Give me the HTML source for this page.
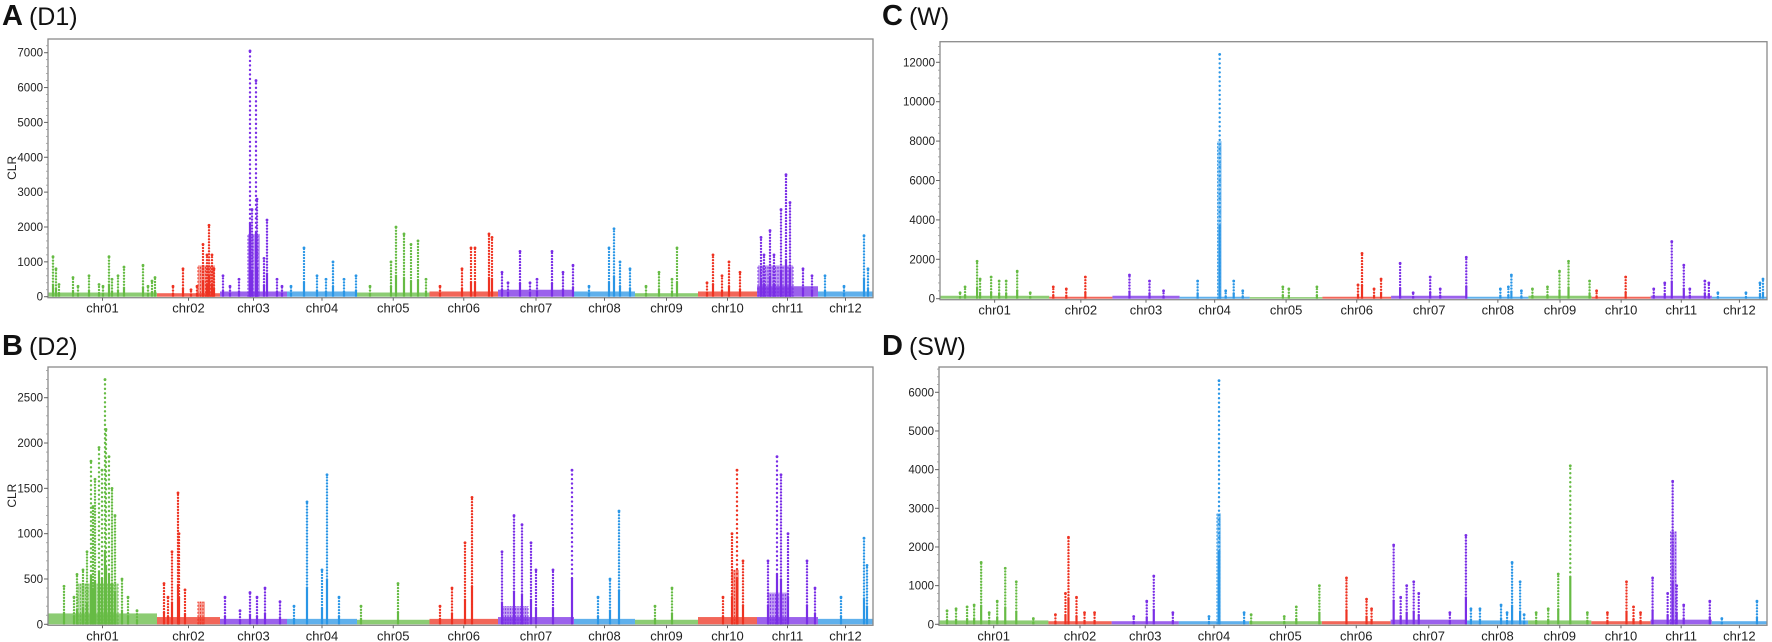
<!DOCTYPE html>
<html><head><meta charset="utf-8"><style>
body{margin:0;background:#fff;}
svg{display:block;font-family:"Liberation Sans",Arial,sans-serif;}
</style></head><body>
<svg id="chart" width="1772" height="642" viewBox="0 0 1772 642" xmlns="http://www.w3.org/2000/svg"></svg>
<script>
const chromosomes = ["chr01","chr02","chr03","chr04","chr05","chr06","chr07","chr08","chr09","chr10","chr11","chr12"];
const chromLengths = [109,63,67,70,72.5,68.5,76,61,63,59,61,55];
const chromColors = ["#66bb44","#ee3322","#7a2ee6","#2a96e6"];

const ticksA = [0,1000,2000,3000,4000,5000,6000,7000];
const ticksB = [0,500,1000,1500,2000,2500];
const ticksC = [0,2000,4000,6000,8000,10000,12000];
const ticksD = [0,1000,2000,3000,4000,5000,6000];

const backgroundA = [120,100,150,150,120,150,200,150,100,150,300,150];
const backgroundB = [120,80,60,60,50,60,80,60,50,80,80,60];
const backgroundC = [150,100,150,100,80,100,150,100,150,100,150,100];
const backgroundD = [100,80,80,80,80,80,120,100,100,80,120,80];

const peaksA = [[5,1150],[8,800],[11,350],[25,550],[30,300],[41,600],[51,350],[55,300],[61,1150],[64,500],[70,600],[76,850],[95,900],[100,300],[104,450],[107,550],
[125,300],[135,800],[143,200],[149,300],[155,1500],[159,1200],[161,2050],[164,1200],[166,800],
[175,600],[182,300],[191,500],[202,7050],[204,2500],[208,6200],[209,2800],[216,1100],[219,2200],[229,500],[234,300],
[243,300],[256,1400],[269,600],[278,500],[285,1000],[296,500],[308,600],
[322,300],[343,1000],[348,2000],[356,1800],[363,1500],[370,1600],[378,500],
[392,300],[414,800],[423,1400],[427,1400],[441,1800],[444,1700],
[454,700],[460,400],[472,1300],[482,400],[489,500],[504,1300],[515,700],[525,900],
[541,300],[561,1400],[566,1950],[572,1000],[582,800],
[598,300],[611,700],[624,500],[629,1400],
[659,400],[665,1200],[674,600],[681,1000],[692,700],
[713,1700],[716,1200],[722,1900],[726,1200],[733,2500],[738,3500],[742,2700],[755,800],[764,600],
[777,600],[796,300],[816,1750],[820,800]];
const denseA = [[200,212,1800],[710,745,900],[150,167,900]];

const peaksB = [[16,420],[26,300],[29,550],[35,600],[39,800],[43,1800],[45,1300],[47,1600],[51,1950],[54,1700],[57,2700],[58,2150],[61,1850],[64,1500],[67,1200],[74,500],[80,300],[89,150],
[116,450],[120,300],[124,800],[130,1450],[131,1000],[137,380],
[177,300],[192,150],[202,350],[209,300],[217,400],[232,250],
[246,200],[259,1350],[274,600],[279,1650],[291,300],
[313,200],[350,450],
[392,200],[404,400],[417,900],[424,1400],
[454,800],[466,1200],[474,1100],[483,900],[488,600],[505,600],[524,1700],
[550,300],[562,500],[571,1250],
[607,200],[624,400],
[675,300],[684,1000],[689,1700],[695,700],
[720,700],[729,1850],[733,1650],[740,1000],[759,700],[767,400],
[793,300],[816,950],[819,650]];
const denseB = [[30,70,450],[150,157,250],[684,691,600],[720,740,350],[455,480,200]];

const peaksC = [[20,300],[25,600],[37,1900],[40,1000],[51,1100],[59,900],[66,900],[77,1400],[90,300],
[113,600],[126,500],[145,1100],
[189,1200],[209,900],[223,400],
[257,900],[279,12400],[285,400],[293,900],[302,400],
[342,600],[348,500],[376,600],
[417,700],[421,2300],[433,500],[440,1000],
[459,1800],[472,300],[489,1100],[499,500],[525,2100],
[559,500],[567,600],[570,1200],[580,400],
[591,500],[606,600],[618,1400],[627,1900],[648,900],
[655,400],[684,1100],
[712,500],[723,800],[730,2900],[742,1700],[748,500],[763,900],[767,800],
[776,300],[804,300],[818,800],[821,1000]];
const denseC = [[277,281,8000]];

const peaksD = [[8,350],[17,400],[28,450],[35,500],[42,1600],[50,300],[58,600],[66,1450],[77,1100],[94,150],
[116,250],[126,800],[129,2250],[137,700],[145,300],[155,300],
[194,200],[207,600],[214,1250],[233,300],
[269,200],[279,6300],[304,300],[311,250],
[344,200],[356,450],[379,1000],
[406,1200],[426,650],[431,400],
[453,2050],[460,700],[466,1000],[473,1100],[478,800],[509,300],[525,2300],[530,400],
[539,400],[560,500],[566,300],[571,1600],[579,1100],[583,250],
[595,300],[607,400],[617,1300],[629,4100],[646,300],
[666,300],[685,1100],[692,450],[699,300],
[711,1200],[726,800],[731,3700],[735,1000],[742,500],[768,600],
[780,150],[815,600]];
const denseD = [[277,281,2870],[729,735,2400]];

const NS="http://www.w3.org/2000/svg";
const svg=document.getElementById('chart');
function mk(tag,attrs,parent){const e=document.createElementNS(NS,tag);for(const k in attrs)e.setAttribute(k,attrs[k]);(parent||svg).appendChild(e);return e;}

const panels=[
 {id:'a',letter:'A',tag:'(D1)',tx:2,ty:25,left:48,right:873,top:39,zeroY:296.7,refV:7000,refY:52.7,ticks:ticksA,bg:backgroundA,peaks:peaksA,dense:denseA,ylabel:true},
 {id:'b',letter:'B',tag:'(D2)',tx:2,ty:355,left:48,right:873,top:367,zeroY:624.3,refV:2500,refY:397.7,ticks:ticksB,bg:backgroundB,peaks:peaksB,dense:denseB,ylabel:true},
 {id:'c',letter:'C',tag:'(W)',tx:882,ty:25,left:940,right:1767,top:41.7,zeroY:298.7,refV:12000,refY:62.3,ticks:ticksC,bg:backgroundC,peaks:peaksC,dense:denseC,ylabel:false},
 {id:'d',letter:'D',tag:'(SW)',tx:882,ty:355,left:939,right:1767,top:367,zeroY:624.3,refV:6000,refY:392.3,ticks:ticksD,bg:backgroundD,peaks:peaksD,dense:denseD,ylabel:false}
];
const total=chromLengths.reduce((a,b)=>a+b,0);
const starts=[];let acc=0;for(const l of chromLengths){starts.push(acc);acc+=l;}
function chrOf(p){for(let i=chromLengths.length-1;i>=0;i--)if(p>=starts[i])return i;return 0;}

panels.forEach(P=>{
 const g=mk('g',{});
 
 
 const xs=p=>P.left+(p/total)*(P.right-P.left);
 const ys=v=>P.zeroY-(v/P.refV)*(P.zeroY-P.refY);
 const title=mk('text',{x:P.tx,y:P.ty,'font-size':29,fill:'#111'},g);
 
 
 const b=mk('tspan',{'font-weight':'bold'},title);b.textContent=P.letter;
 const t2=mk('tspan',{dx:6,'font-size':25},title);t2.textContent=P.tag;
 const marks=mk('g',{},g);
 
 
 P.bg.forEach((v,i)=>{
  const r=mk('rect',{x:xs(starts[i]),y:ys(v),width:xs(starts[i]+chromLengths[i])-xs(starts[i]),height:P.zeroY-ys(v),fill:chromColors[i%4],opacity:0.75},marks);
  
  
 });
 P.dense.forEach(d=>{
  const c=chromColors[chrOf(d[0])%4];
  const dg=mk('g',{},marks);
  
  
  mk('rect',{x:xs(d[0]),y:ys(d[2]),width:xs(d[1])-xs(d[0]),height:P.zeroY-ys(d[2]),fill:c,opacity:0.45},dg);
  for(let x=xs(d[0]);x<=xs(d[1]);x+=2.5){
   mk('line',{x1:x,x2:x,y1:P.zeroY,y2:ys(d[2]),stroke:c,'stroke-width':1.2,'stroke-dasharray':'2 1.5',opacity:0.9},dg);
  }
 });
 P.peaks.forEach(pk=>{
  const c=chromColors[chrOf(pk[0])%4];
  const x=xs(pk[0]);const yt=ys(pk[1]);const h=P.zeroY-yt;
  const pg=mk('g',{fill:c,stroke:c},marks);
  
  
  const solidTop=P.zeroY-h*0.3;
  mk('line',{x1:x,x2:x,y1:P.zeroY,y2:solidTop,'stroke-width':2.2},pg);
  const step=h>150?4.5:3;
  for(let y=solidTop;y>yt;y-=step){mk('circle',{cx:x,cy:y,r:1.2,stroke:'none'},pg);}
  mk('circle',{cx:x,cy:yt,r:1.4,stroke:'none'},pg);
 });
 const fr=mk('rect',{x:P.left,y:P.top,width:P.right-P.left,height:P.zeroY+1-P.top,fill:'none',stroke:'#8a8a8a','stroke-width':1.3},g);
 
 
 const yax=mk('g',{'font-size':11.5,fill:'#222'},g);
 
 
 const stepV=P.ticks[1]-P.ticks[0];
 for(let v=0;ys(v)>P.top;v+=stepV/5){mk('line',{x1:P.left-2,x2:P.left,y1:ys(v),y2:ys(v),stroke:'#999','stroke-width':0.8},yax);}
 P.ticks.forEach(v=>{
  mk('line',{x1:P.left-4,x2:P.left,y1:ys(v),y2:ys(v),stroke:'#666','stroke-width':1},yax);
  const t=mk('text',{x:P.left-5,y:ys(v)+4,'text-anchor':'end'},yax);
  
  
  t.textContent=v;
 });
 if(P.ylabel){
  const cy=(P.top+P.zeroY)/2;
  const yl=mk('text',{x:16,y:cy,'font-size':12,fill:'#222','text-anchor':'middle',transform:`rotate(-90 16 ${cy})`},g);
  
  
  yl.textContent='CLR';
 }
 const xax=mk('g',{'font-size':13,fill:'#222','text-anchor':'middle'},g);
 
 
 chromosomes.forEach((c,i)=>{
  const mx=xs(starts[i]+chromLengths[i]/2);
  mk('line',{x1:mx,x2:mx,y1:P.zeroY+1,y2:P.zeroY+4,stroke:'#666'},xax);
  const t=mk('text',{x:mx,y:P.zeroY+16},xax);
  
  
  t.textContent=c;
 });
});
</script>
</body></html>
